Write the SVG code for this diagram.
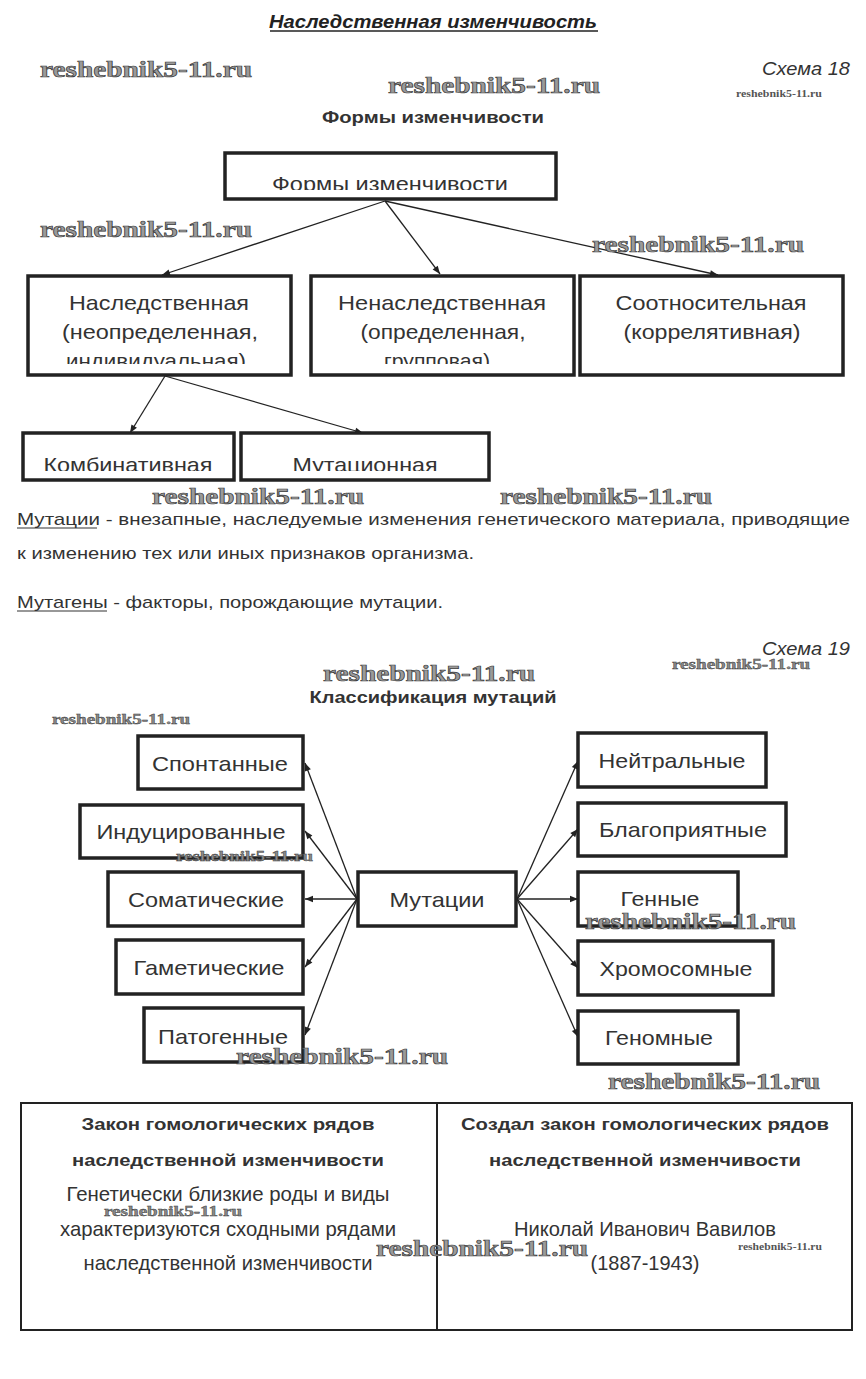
<svg xmlns="http://www.w3.org/2000/svg" width="866" height="1379" viewBox="0 0 866 1379">
<style>
.bx{fill:#fff;stroke:#222;stroke-width:3.5}
.t{font-family:"Liberation Sans",Arial,sans-serif;font-size:21px;fill:#333;text-anchor:middle}
.p{font-family:"Liberation Sans",Arial,sans-serif;font-size:17px;fill:#333}
.h{font-family:"Liberation Sans",Arial,sans-serif;font-size:17px;font-weight:bold;fill:#333;text-anchor:middle}
.it{font-family:"Liberation Sans",Arial,sans-serif;font-size:18px;font-style:italic;fill:#333}
.wm{font-family:"Liberation Serif","DejaVu Serif",serif;font-weight:bold;font-size:24px;fill:#9a9a9a;stroke:#3a3a3a;stroke-width:0.7}
.ws{font-family:"Liberation Serif","DejaVu Serif",serif;font-weight:bold;font-size:14px;fill:#8a8a8a;stroke:#3a3a3a;stroke-width:0.4}
.wt{font-family:"Liberation Serif","DejaVu Serif",serif;font-weight:bold;font-size:10px;fill:#555}
.c line{stroke:#222;stroke-width:1.3;marker-end:url(#ah)}
.tb{stroke:#222;stroke-width:2}
</style>
<defs>
<marker id="ah" viewBox="0 0 10 10" refX="10" refY="5" markerWidth="10" markerHeight="8" markerUnits="userSpaceOnUse" orient="auto"><path d="M0,1 L10,5 L0,9 z" fill="#222"/></marker>
<clipPath id="cp1"><rect x="225" y="153" width="331" height="37"/></clipPath>
<clipPath id="cp2"><rect x="0" y="276" width="866" height="88"/></clipPath>
<clipPath id="cp3"><rect x="0" y="433" width="866" height="38"/></clipPath>
</defs>
<rect width="866" height="1379" fill="#fff"/>

<!-- headers -->
<text x="433" y="28" font-family="Liberation Sans,Arial,sans-serif" font-size="19" font-weight="bold" font-style="italic" fill="#222" text-anchor="middle" textLength="328" lengthAdjust="spacingAndGlyphs">Наследственная изменчивость</text>
<line x1="270" y1="31" x2="598" y2="31" stroke="#222" stroke-width="1.6"/>
<text class="it" x="762" y="75" textLength="88" lengthAdjust="spacingAndGlyphs">Схема 18</text>
<text class="h" x="433" y="123" textLength="222" lengthAdjust="spacingAndGlyphs">Формы изменчивости</text>

<!-- connectors -->
<g id="connectors" class="c">
<line x1="385" y1="201" x2="162" y2="275"/>
<line x1="385" y1="201" x2="440" y2="274"/>
<line x1="385" y1="201" x2="718" y2="275"/>
<line x1="165" y1="376" x2="130" y2="433"/>
<line x1="165" y1="376" x2="363" y2="433"/>
<line x1="357" y1="899" x2="305" y2="763"/>
<line x1="357" y1="899" x2="305" y2="831"/>
<line x1="357" y1="899" x2="305" y2="899"/>
<line x1="357" y1="899" x2="305" y2="967"/>
<line x1="357" y1="899" x2="305" y2="1035"/>
<line x1="517" y1="899" x2="578" y2="761"/>
<line x1="517" y1="899" x2="578" y2="829"/>
<line x1="517" y1="899" x2="578" y2="899"/>
<line x1="517" y1="899" x2="578" y2="968"/>
<line x1="517" y1="899" x2="578" y2="1037"/>
</g>

<!-- schema 18 nodes -->
<g id="forms">
<rect class="bx" x="225" y="153" width="331" height="46"/>
<text class="t" x="390" y="191" clip-path="url(#cp1)" textLength="236" lengthAdjust="spacingAndGlyphs">Формы изменчивости</text>
</g>
<g id="hered">
<rect class="bx" x="28" y="276" width="263" height="99"/>
<g clip-path="url(#cp2)">
<text class="t" x="159" y="310" textLength="180" lengthAdjust="spacingAndGlyphs">Наследственная</text>
<text class="t" x="160" y="339" textLength="196" lengthAdjust="spacingAndGlyphs">(неопределенная,</text>
<text class="t" x="156" y="368" textLength="180" lengthAdjust="spacingAndGlyphs">индивидуальная)</text>
</g>
</g>
<g id="nonhered">
<rect class="bx" x="311" y="276" width="263" height="99"/>
<g clip-path="url(#cp2)">
<text class="t" x="442" y="310" textLength="208" lengthAdjust="spacingAndGlyphs">Ненаследственная</text>
<text class="t" x="443" y="339" textLength="165" lengthAdjust="spacingAndGlyphs">(определенная,</text>
<text class="t" x="437" y="368" textLength="106" lengthAdjust="spacingAndGlyphs">групповая)</text>
</g>
</g>
<g id="corr">
<rect class="bx" x="580" y="276" width="263" height="99"/>
<text class="t" x="711" y="310" textLength="191" lengthAdjust="spacingAndGlyphs">Соотносительная</text>
<text class="t" x="712" y="339" textLength="177" lengthAdjust="spacingAndGlyphs">(коррелятивная)</text>
</g>
<g id="comb">
<rect class="bx" x="23" y="433" width="211" height="47"/>
<text class="t" x="128" y="472" clip-path="url(#cp3)" textLength="169" lengthAdjust="spacingAndGlyphs">Комбинативная</text>
</g>
<g id="mutat">
<rect class="bx" x="241" y="433" width="248" height="47"/>
<text class="t" x="365" y="472" clip-path="url(#cp3)" textLength="145" lengthAdjust="spacingAndGlyphs">Мутационная</text>
</g>

<!-- paragraphs -->
<text class="p" x="17" y="525" textLength="833" lengthAdjust="spacingAndGlyphs">Мутации - внезапные, наследуемые изменения генетического материала, приводящие</text>
<line x1="17" y1="528" x2="97" y2="528" stroke="#333" stroke-width="1.2"/>
<text class="p" x="17" y="559" textLength="457" lengthAdjust="spacingAndGlyphs">к изменению тех или иных признаков организма.</text>
<text class="p" x="17" y="608" textLength="426" lengthAdjust="spacingAndGlyphs">Мутагены - факторы, порождающие мутации.</text>
<line x1="17" y1="611" x2="107" y2="611" stroke="#333" stroke-width="1.2"/>

<!-- schema 19 -->
<text class="it" x="762" y="655" textLength="88" lengthAdjust="spacingAndGlyphs">Схема 19</text>
<text class="h" x="433" y="703" textLength="247" lengthAdjust="spacingAndGlyphs">Классификация мутаций</text>

<g id="spont"><rect class="bx" x="138" y="736" width="165" height="53"/><text class="t" x="220" y="771" textLength="136" lengthAdjust="spacingAndGlyphs">Спонтанные</text></g>
<g id="induc"><rect class="bx" x="80" y="805" width="223" height="53"/><text class="t" x="191" y="839" textLength="189" lengthAdjust="spacingAndGlyphs">Индуцированные</text></g>
<g id="somat"><rect class="bx" x="108" y="872" width="195" height="54"/><text class="t" x="206" y="907" textLength="156" lengthAdjust="spacingAndGlyphs">Соматические</text></g>
<g id="gamet"><rect class="bx" x="116" y="940" width="187" height="54"/><text class="t" x="209" y="975" textLength="151" lengthAdjust="spacingAndGlyphs">Гаметические</text></g>
<g id="patog"><rect class="bx" x="144" y="1008" width="159" height="54"/><text class="t" x="223" y="1044" textLength="130" lengthAdjust="spacingAndGlyphs">Патогенные</text></g>

<g id="mutations"><rect class="bx" x="358" y="872" width="158" height="54"/><text class="t" x="437" y="907" textLength="95" lengthAdjust="spacingAndGlyphs">Мутации</text></g>

<g id="neutr"><rect class="bx" x="578" y="733" width="188" height="54"/><text class="t" x="672" y="768" textLength="147" lengthAdjust="spacingAndGlyphs">Нейтральные</text></g>
<g id="favor"><rect class="bx" x="578" y="803" width="208" height="53"/><text class="t" x="683" y="837" textLength="168" lengthAdjust="spacingAndGlyphs">Благоприятные</text></g>
<g id="gene"><rect class="bx" x="578" y="872" width="160" height="54"/><text class="t" x="660" y="906" textLength="79" lengthAdjust="spacingAndGlyphs">Генные</text></g>
<g id="chrom"><rect class="bx" x="578" y="941" width="195" height="54"/><text class="t" x="676" y="976" textLength="153" lengthAdjust="spacingAndGlyphs">Хромосомные</text></g>
<g id="genom"><rect class="bx" x="578" y="1011" width="160" height="53"/><text class="t" x="659" y="1045" textLength="108" lengthAdjust="spacingAndGlyphs">Геномные</text></g>

<!-- table -->
<g id="table">
<line class="tb" x1="20" y1="1103" x2="853" y2="1103"/>
<line class="tb" x1="20" y1="1330" x2="853" y2="1330"/>
<line class="tb" x1="21" y1="1103" x2="21" y2="1330"/>
<line class="tb" x1="852" y1="1103" x2="852" y2="1330"/>
<line class="tb" x1="437" y1="1103" x2="437" y2="1330"/>
<text class="h" x="228" y="1130" textLength="293" lengthAdjust="spacingAndGlyphs">Закон гомологических рядов</text>
<text class="h" x="228" y="1166" textLength="312" lengthAdjust="spacingAndGlyphs">наследственной изменчивости</text>
<text class="t" x="228" y="1201" font-size="19" textLength="323" lengthAdjust="spacingAndGlyphs">Генетически близкие роды и виды</text>
<text class="t" x="228" y="1236" font-size="19" textLength="336" lengthAdjust="spacingAndGlyphs">характеризуются сходными рядами</text>
<text class="t" x="228" y="1270" font-size="19" textLength="289" lengthAdjust="spacingAndGlyphs">наследственной изменчивости</text>
<text class="h" x="645" y="1130" textLength="368" lengthAdjust="spacingAndGlyphs">Создал закон гомологических рядов</text>
<text class="h" x="645" y="1166" textLength="312" lengthAdjust="spacingAndGlyphs">наследственной изменчивости</text>
<text class="t" x="645" y="1236" font-size="19" textLength="262" lengthAdjust="spacingAndGlyphs">Николай Иванович Вавилов</text>
<text class="t" x="645" y="1270" font-size="19" textLength="109" lengthAdjust="spacingAndGlyphs">(1887-1943)</text>
</g>

<!-- watermarks -->
<g id="watermarks">
<text class="wm" x="40" y="77" textLength="212" lengthAdjust="spacingAndGlyphs">reshebnik5-11.ru</text>
<text class="wm" x="388" y="93" textLength="212" lengthAdjust="spacingAndGlyphs">reshebnik5-11.ru</text>
<text class="wt" x="736" y="97" textLength="86" lengthAdjust="spacingAndGlyphs">reshebnik5-11.ru</text>
<text class="wm" x="40" y="237" textLength="212" lengthAdjust="spacingAndGlyphs">reshebnik5-11.ru</text>
<text class="wm" x="592" y="252" textLength="212" lengthAdjust="spacingAndGlyphs">reshebnik5-11.ru</text>
<text class="wm" x="152" y="504" textLength="212" lengthAdjust="spacingAndGlyphs">reshebnik5-11.ru</text>
<text class="wm" x="500" y="504" textLength="212" lengthAdjust="spacingAndGlyphs">reshebnik5-11.ru</text>
<text class="wm" x="323" y="681" textLength="212" lengthAdjust="spacingAndGlyphs">reshebnik5-11.ru</text>
<text class="ws" x="672" y="669" textLength="138" lengthAdjust="spacingAndGlyphs">reshebnik5-11.ru</text>
<text class="ws" x="52" y="724" textLength="138" lengthAdjust="spacingAndGlyphs">reshebnik5-11.ru</text>
<text class="ws" x="176" y="861" textLength="137" lengthAdjust="spacingAndGlyphs">reshebnik5-11.ru</text>
<text class="wm" x="585" y="929" textLength="211" lengthAdjust="spacingAndGlyphs">reshebnik5-11.ru</text>
<text class="wm" x="236" y="1064" textLength="212" lengthAdjust="spacingAndGlyphs">reshebnik5-11.ru</text>
<text class="wm" x="608" y="1089" textLength="212" lengthAdjust="spacingAndGlyphs">reshebnik5-11.ru</text>
<text class="ws" x="104" y="1216" textLength="138" lengthAdjust="spacingAndGlyphs">reshebnik5-11.ru</text>
<text class="wm" x="376" y="1256" textLength="212" lengthAdjust="spacingAndGlyphs">reshebnik5-11.ru</text>
<text class="wt" x="738" y="1250" textLength="84" lengthAdjust="spacingAndGlyphs">reshebnik5-11.ru</text>
</g>
</svg>
